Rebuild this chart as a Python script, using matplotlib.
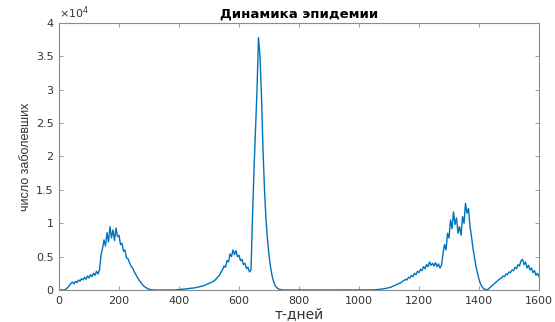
import numpy as np
import matplotlib.pyplot as plt

plt.rcParams['font.family'] = ['DejaVu Sans']

# число заболевших, в единицах 1e4, шаг 5 дней (0..1600)
step_days = 5
cases_e4 = [
    # 0-45
    0, 0, 0, 0, 0.005, 0.02, 0.04, 0.07, 0.10, 0.12,
    # 50-95
    0.09, 0.13, 0.11, 0.15, 0.13, 0.17, 0.15, 0.19, 0.16, 0.21,
    # 100-145
    0.18, 0.23, 0.20, 0.25, 0.22, 0.28, 0.24, 0.30, 0.52, 0.62,
    # 150-195
    0.75, 0.66, 0.86, 0.72, 0.95, 0.78, 0.90, 0.74, 0.93, 0.80,
    # 200-245
    0.82, 0.68, 0.70, 0.58, 0.60, 0.48, 0.47, 0.41, 0.36, 0.33,
    # 250-295
    0.28, 0.24, 0.20, 0.16, 0.13, 0.10, 0.07, 0.05, 0.035, 0.02,
    # 300-345
    0.012, 0.006, 0.003, 0.001, 0, 0, 0, 0, 0, 0,
    # 350-395
    0, 0, 0, 0, 0, 0, 0, 0, 0.002, 0.004,
    # 400-445
    0.006, 0.008, 0.01, 0.012, 0.015, 0.018, 0.02, 0.023, 0.026, 0.028,
    # 450-495
    0.03, 0.035, 0.04, 0.045, 0.05, 0.055, 0.06, 0.07, 0.08, 0.09,
    # 500-545
    0.10, 0.11, 0.12, 0.13, 0.15, 0.17, 0.20, 0.22, 0.27, 0.30,
    # 550-595
    0.36, 0.34, 0.44, 0.42, 0.54, 0.50, 0.60, 0.53, 0.59, 0.50,
    # 600-645
    0.52, 0.44, 0.46, 0.38, 0.40, 0.32, 0.34, 0.27, 0.30, 1.1,
    # 650-695
    1.8, 2.4, 3.0, 3.78, 3.5, 2.9, 2.1, 1.5, 1.05, 0.75,
    # 700-745
    0.52, 0.35, 0.22, 0.13, 0.07, 0.04, 0.02, 0.01, 0.005, 0,
    # 750-795
    0, 0, 0, 0, 0, 0, 0, 0, 0, 0,
    # 800-845
    0, 0, 0, 0, 0, 0, 0, 0, 0, 0,
    # 850-895
    0, 0, 0, 0, 0, 0, 0, 0, 0, 0,
    # 900-945
    0, 0, 0, 0, 0, 0, 0, 0, 0, 0,
    # 950-995
    0, 0, 0, 0, 0, 0, 0, 0, 0, 0,
    # 1000-1045
    0, 0, 0, 0, 0, 0, 0, 0, 0, 0.001,
    # 1050-1095
    0.002, 0.004, 0.006, 0.008, 0.01, 0.013, 0.016, 0.02, 0.025, 0.03,
    # 1100-1145
    0.035, 0.04, 0.05, 0.06, 0.07, 0.08, 0.09, 0.10, 0.11, 0.13,
    # 1150-1195
    0.14, 0.16, 0.15, 0.19, 0.18, 0.22, 0.20, 0.25, 0.23, 0.28,
    # 1200-1245
    0.26, 0.31, 0.29, 0.35, 0.32, 0.38, 0.35, 0.42, 0.37, 0.40,
    # 1250-1295
    0.36, 0.41, 0.35, 0.39, 0.33, 0.37, 0.55, 0.68, 0.60, 0.85,
    # 1300-1345
    0.78, 1.05, 0.92, 1.17, 0.98, 1.08, 0.85, 0.95, 0.82, 1.10,
    # 1350-1395
    1.0, 1.30, 1.15, 1.22, 0.95, 0.80, 0.62, 0.48, 0.35, 0.25,
    # 1400-1445
    0.16, 0.09, 0.05, 0.02, 0.01, 0.005, 0.01, 0.03, 0.05, 0.07,
    # 1450-1495
    0.09, 0.11, 0.13, 0.15, 0.17, 0.18, 0.21, 0.20, 0.24, 0.23,
    # 1500-1545
    0.27, 0.26, 0.30, 0.29, 0.34, 0.32, 0.38, 0.36, 0.44, 0.46,
    # 1550-1595
    0.38, 0.42, 0.33, 0.37, 0.30, 0.33, 0.26, 0.29, 0.22, 0.25,
    # 1600
    0.20,
]
days = np.arange(len(cases_e4)) * step_days

x_ticks = [0, 200, 400, 600, 800, 1000, 1200, 1400, 1600]
y_ticks = [0, 0.5, 1, 1.5, 2, 2.5, 3, 3.5, 4]

text_col = '#333333'
frame_col = '#8c8c8c'

fig = plt.figure(figsize=(5.55, 3.22), dpi=100)
ax = fig.add_axes([0.1063, 0.0994, 0.8649, 0.8292])

ax.plot(days, cases_e4, color='#0072BD', lw=1.0)

ax.set_xlim(0, 1600)
ax.set_ylim(0, 4)
ax.set_xticks(x_ticks)
ax.set_xticklabels([str(v) for v in x_ticks])
ax.set_yticks(y_ticks)
ax.set_yticklabels(['%g' % v for v in y_ticks])

ax.tick_params(direction='in', length=3, width=0.6, colors=frame_col,
               labelcolor=text_col, labelsize=8, top=True, right=True, pad=4)
for s in ax.spines.values():
    s.set_color(frame_col)
    s.set_linewidth(0.8)

ax.text(0.0, 1.008, r'$\times10^4$', transform=ax.transAxes, fontsize=8,
        color=text_col, ha='left', va='bottom')
ax.set_title('Динамика эпидемии', fontsize=9.5, fontweight='bold',
             color='black', pad=4)
ax.set_xlabel('т-дней', fontsize=10, color=text_col, labelpad=1)
ax.set_ylabel('число заболевших', fontsize=9, color=text_col, labelpad=3,
              family=['Liberation Sans Narrow', 'Liberation Sans'])

fig.savefig('out.png', dpi=100, facecolor='white')
